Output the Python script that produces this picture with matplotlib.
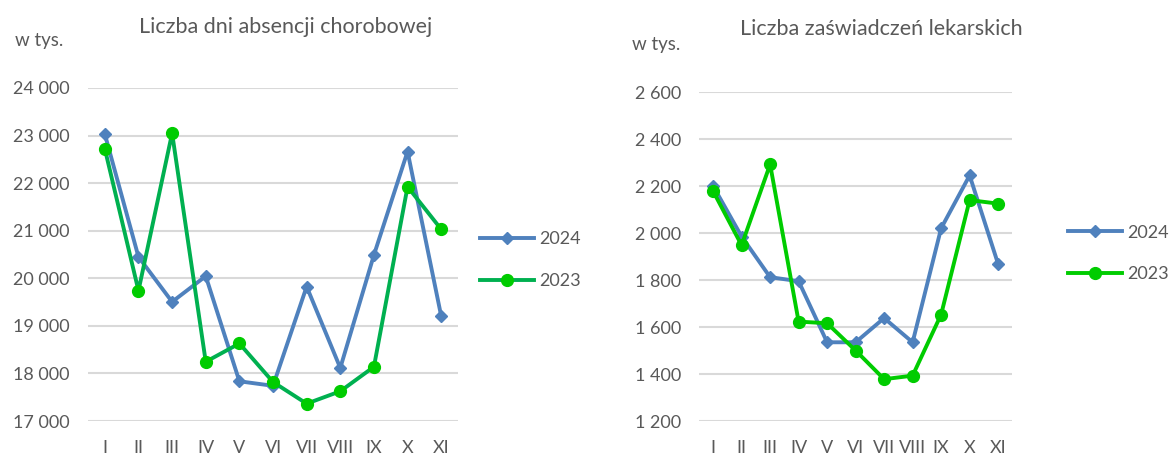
import matplotlib.pyplot as plt
from matplotlib.ticker import FuncFormatter

plt.rcParams['font.family'] = ['Lato', 'DejaVu Sans']

months = ['I', 'II', 'III', 'IV', 'V', 'VI', 'VII', 'VIII', 'IX', 'X', 'XI']

# liczba dni absencji chorobowej (w tys.)
days_2024 = [23030, 20450, 19505, 20045, 17835, 17740, 19825, 18115, 20490, 22665, 19205]
days_2023 = [22720, 19740, 23050, 18245, 18630, 17820, 17365, 17625, 18140, 21925, 21030]

# liczba zaswiadczen lekarskich (w tys.)
cert_2024 = [2200, 1985, 1812, 1795, 1535, 1535, 1638, 1535, 2020, 2245, 1868]
cert_2023 = [2178, 1948, 2292, 1623, 1616, 1500, 1378, 1393, 1653, 2140, 2125]

grey = '#595959'
blue = '#4F81BD'
green_dark = '#00B050'
green = '#00CC00'

fmt = FuncFormatter(lambda v, p: '{:,.0f}'.format(v).replace(',', ' '))

fig = plt.figure(figsize=(11.72, 4.55), dpi=100)


def setup(ax, lo, hi, step):
    ax.set_xlim(-0.5, len(months) - 0.5)
    ax.set_ylim(lo, hi)
    ax.set_yticks(range(lo, hi + 1, step))
    ax.yaxis.set_major_formatter(fmt)
    ax.set_xticks(range(len(months)))
    ax.set_xticklabels(months)
    ax.grid(axis='y', color='#D9D9D9', linewidth=1.5)
    ax.set_axisbelow(True)
    for s in ax.spines.values():
        s.set_visible(False)
    ax.tick_params(length=0, labelsize=13, colors=grey, pad=13)
    ax.tick_params(axis='x', pad=14)


# lewy wykres
ax1 = fig.add_axes([0.0751, 0.0747, 0.3157, 0.7319])
setup(ax1, 17000, 24000, 1000)
x = range(len(months))
ax1.plot(x, days_2024, color=blue, lw=2.8, marker='D', ms=6.5, label='2024')
ax1.plot(x, days_2023, color=green_dark, lw=2.8, marker='o', ms=8.5,
         mfc=green, mec=green, label='2023')
fig.text(0.244, 0.94, 'Liczba dni absencji chorobowej', ha='center', va='center',
         fontsize=15.5, color=grey)
fig.text(0.013, 0.912, 'w tys.', ha='left', va='center', fontsize=13.5, color=grey)
ax1.legend(loc='center left', bbox_to_anchor=(1.015, 0.483), frameon=False,
           fontsize=13, labelcolor=grey, handlelength=3.0, handletextpad=0.3,
           labelspacing=1.45)

# prawy wykres
ax2 = fig.add_axes([0.5963, 0.0747, 0.2675, 0.7231])
setup(ax2, 1200, 2600, 200)
ax2.plot(x, cert_2024, color=blue, lw=2.8, marker='D', ms=6.5, label='2024')
ax2.plot(x, cert_2023, color=green, lw=2.8, marker='o', ms=8.5, label='2023')
fig.text(0.752, 0.937, 'Liczba zaświadczeń lekarskich', ha='center', va='center',
         fontsize=15.5, color=grey)
fig.text(0.539, 0.903, 'w tys.', ha='left', va='center', fontsize=13.5, color=grey)
ax2.legend(loc='center left', bbox_to_anchor=(1.125, 0.51), frameon=False,
           fontsize=13, labelcolor=grey, handlelength=3.0, handletextpad=0.3,
           labelspacing=1.4)

fig.savefig('out.png', dpi=100)
